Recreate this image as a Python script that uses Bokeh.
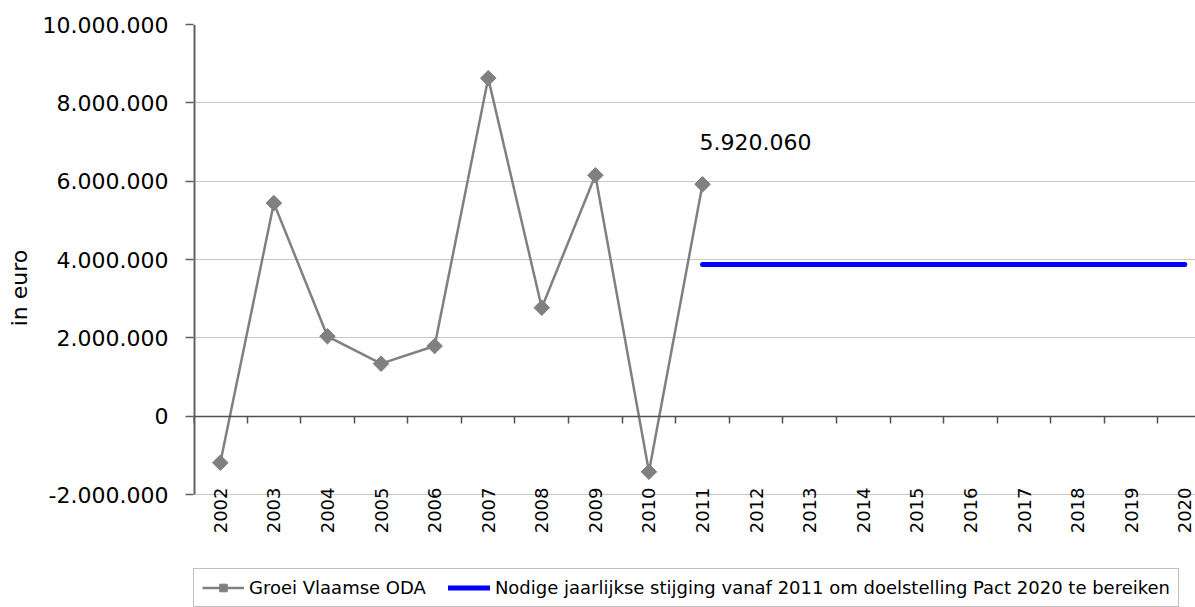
import math
from bokeh.plotting import figure
from bokeh.models import (Range1d, FixedTicker, LinearAxis, Legend, LegendItem,
                          ColumnDataSource)
from bokeh.core.properties import value
from bokeh.embed import file_html
from bokeh.resources import INLINE

# ---- data ----
years = ["2002", "2003", "2004", "2005", "2006", "2007", "2008", "2009", "2010",
         "2011", "2012", "2013", "2014", "2015", "2016", "2017", "2018", "2019", "2020"]
oda_years = ["2002", "2003", "2004", "2005", "2006", "2007", "2008", "2009", "2010", "2011"]
oda_values = [-1190000, 5440000, 2040000, 1340000, 1790000, 8630000, 2770000, 6150000,
              -1420000, 5920060]
target_years = ["2011", "2012", "2013", "2014", "2015", "2016", "2017", "2018", "2019", "2020"]
target_values = [3870000, 3870000, 3870000, 3870000, 3870000, 3870000, 3870000, 3870000,
                 3870000, 3870000]
y_ticks = [-2000000, 0, 2000000, 4000000, 6000000, 8000000, 10000000]
series_names = ["Groei Vlaamse ODA",
                "Nodige jaarlijkse stijging vanaf 2011 om doelstelling Pact 2020 te bereiken"]
y_title = "in euro"


def fmt(v):
    return f"{int(v):,}".replace(",", ".")


FONT = "DejaVu Sans"
idx = {y: i for i, y in enumerate(years)}

# layout (pixels)
W, H = 1195, 607
TOP, LEFT = 24, 193
CHART_H = 470                      # height of the -2M..10M band
FRAME_H = H - TOP                  # frame runs down to the bottom (room for labels + legend)
y_hi = y_ticks[-1]
y_lo = y_hi - (y_ticks[-1] - y_ticks[0]) * FRAME_H / CHART_H
x_lo = -0.5
x_hi = len(years) - 1 + 0.2

p = figure(width=W, height=H, output_backend="svg", toolbar_location=None,
           x_range=Range1d(x_lo, x_hi), y_range=Range1d(y_lo, y_hi),
           x_axis_location=None,
           min_border_left=LEFT, min_border_right=0, min_border_top=TOP,
           min_border_bottom=0)
p.outline_line_color = None
p.background_fill_color = "white"
p.border_fill_color = "white"
p.xgrid.visible = False

# y axis
ya = p.yaxis[0]
ya.ticker = FixedTicker(ticks=y_ticks)
ya.major_label_overrides = {t: fmt(t) for t in y_ticks}
ya.major_tick_out = 8
ya.major_tick_in = 0
ya.minor_tick_line_color = None
ya.axis_line_color = None
ya.major_tick_line_color = "#606060"
ya.major_tick_line_width = 1.5
ya.major_label_standoff = 17
ya.major_label_text_font = FONT
ya.major_label_text_font_size = "22px"
ya.major_label_text_color = "black"
ya.axis_label = "\u00a0" * 8 + y_title
ya.axis_label_standoff = 8
ya.axis_label_text_font = FONT
ya.axis_label_text_font_size = "22px"
ya.axis_label_text_font_style = "normal"
ya.axis_label_text_color = "black"

p.ygrid.ticker = FixedTicker(ticks=y_ticks)
p.ygrid.grid_line_color = "#c8c8c8"
p.ygrid.grid_line_width = 1

# visible y axis line only over the value band
p.segment(x0=[x_lo], y0=[y_ticks[0]], x1=[x_lo], y1=[y_ticks[-1]],
          line_color="#606060", line_width=4)

# zero axis with category boundary ticks (drawn at y=0 inside the frame)
bounds = [i - 0.5 for i in range(len(years) + 1)]
zero_axis = LinearAxis(fixed_location=0, ticker=FixedTicker(ticks=bounds))
zero_axis.axis_line_color = "#505050"
zero_axis.axis_line_width = 1.5
zero_axis.major_tick_out = 0
zero_axis.major_tick_in = 7
zero_axis.major_tick_line_color = "#505050"
zero_axis.major_tick_line_width = 1.5
zero_axis.minor_tick_line_color = None
zero_axis.major_label_overrides = {b: "" for b in bounds}
zero_axis.major_label_text_font_size = "1px"
zero_axis.major_label_text_alpha = 0
zero_axis.major_label_standoff = 0
p.add_layout(zero_axis, "above")

# category labels at the bottom of the value band
p.text(x=[idx[y] for y in years], y=[y_ticks[0]] * len(years), text=years,
       angle=math.pi / 2, text_align="right", text_baseline="middle", y_offset=-7,
       text_font=value(FONT), text_font_size="18px", text_color="black")

# series
src_oda = ColumnDataSource(dict(x=[idx[y] for y in oda_years], y=oda_values))
src_t = ColumnDataSource(dict(x=[idx[y] for y in target_years], y=target_values))

r1 = p.line("x", "y", source=src_oda, line_color="#808080", line_width=2.5)
r1m = p.scatter("x", "y", source=src_oda, marker="square", angle=math.pi / 4, size=11,
                fill_color="#808080", line_color="#808080")
r2 = p.line("x", "y", source=src_t, line_color="#0000ff", line_width=5, line_cap="round")

# data label for last ODA value
p.text(x=[idx[oda_years[-1]]], y=[oda_values[-1]], text=[fmt(oda_values[-1])],
       x_offset=-3, y_offset=-42, text_font=value(FONT), text_font_size="22px",
       text_baseline="middle", text_align="left", text_color="black")

legend = Legend(items=[LegendItem(label=series_names[0], renderers=[r1, r1m]),
                       LegendItem(label=series_names[1], renderers=[r2])],
                orientation="horizontal", location=(0, 0),
                padding=8, spacing=22, glyph_width=42, glyph_height=19,
                label_standoff=5, label_height=19, margin=0,
                label_text_font=FONT, label_text_font_size="18px",
                label_text_color="black",
                border_line_color="#808080", border_line_width=1.5,
                background_fill_color="white", background_fill_alpha=1)
p.add_layout(legend)

open("out.html", "w").write(file_html(p, INLINE))
